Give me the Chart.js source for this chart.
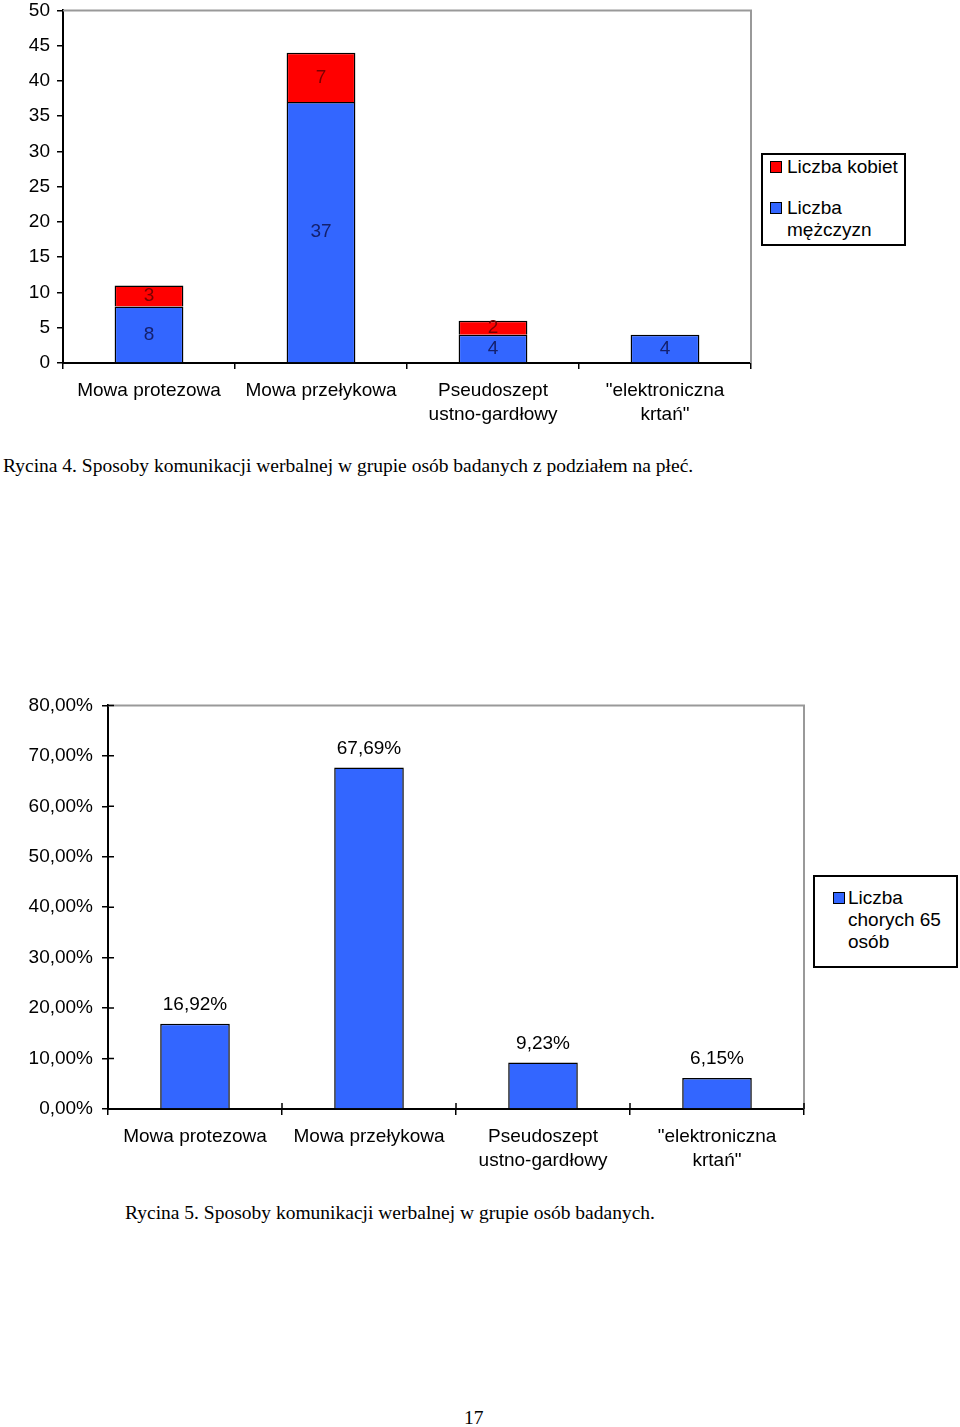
<!DOCTYPE html>
<html>
<head>
<meta charset="utf-8">
<script src="https://cdn.jsdelivr.net/npm/chart.js@4"></script>
<style>
  body { margin: 0; width: 960px; height: 1427px; position: relative; background: #fff; font-family: "Liberation Sans", Arial, sans-serif; overflow: hidden; }
  .box { position: absolute; }
  .legend { position: absolute; border: 2px solid #000; background: #fff; font-size: 19px; line-height: 22px; color: #000; box-sizing: border-box; }
  .item { position: absolute; }
  .sw { position: absolute; width: 10px; height: 10px; border: 1px solid #000; }
  .caption { position: absolute; font-family: "Liberation Serif", "Times New Roman", serif; font-size: 19.5px; color: #000; white-space: nowrap; }
</style>
</head>
<body>

<div class="box" style="left:0;top:-8px;width:960px;height:448px"><canvas id="chart1"></canvas></div>
<div class="legend" style="left:761px;top:153px;width:145px;height:93px">
  <div class="sw" style="left:7px;top:6px;background:#ff0000"></div>
  <div class="item" style="left:24px;top:1px">Liczba kobiet</div>
  <div class="sw" style="left:7px;top:47px;background:#3366ff"></div>
  <div class="item" style="left:24px;top:42px">Liczba<br>mężczyzn</div>
</div>
<div class="caption" style="left:3px;top:455px">Rycina 4. Sposoby komunikacji werbalnej w grupie osób badanych z podziałem na płeć.</div>

<div class="box" style="left:0;top:685px;width:960px;height:505px"><canvas id="chart2"></canvas></div>
<div class="legend" style="left:813px;top:875px;width:145px;height:93px">
  <div class="sw" style="left:18px;top:15px;background:#3366ff"></div>
  <div class="item" style="left:33px;top:10px">Liczba<br>chorych 65<br>osób</div>
</div>
<div class="caption" style="left:125px;top:1202px">Rycina 5. Sposoby komunikacji werbalnej w grupie osób badanych.</div>

<div class="caption" style="left:464px;top:1407px">17</div>

<script>
let categories = ["Mowa protezowa", "Mowa przełykowa", ["Pseudoszept", "ustno-gardłowy"], ["\"elektroniczna", "krtań\""]];
let kobiety = [3, 7, 2, 0];
let mezczyzni = [8, 37, 4, 4];
let procenty = [16.92, 67.69, 9.23, 6.15];
let ticks1 = [0, 5, 10, 15, 20, 25, 30, 35, 40, 45, 50];
let ticks2 = [0, 10, 20, 30, 40, 50, 60, 70, 80];

Chart.defaults.font.family = '"Liberation Sans", Arial, sans-serif';
Chart.defaults.font.size = 19;
Chart.defaults.color = "#000";
Chart.defaults.animation = false;

// gray top/right border of the plot area
let frame = {
  id: "frame",
  beforeDatasetsDraw(chart) {
    let a = chart.chartArea;
    let c = chart.ctx;
    c.save();
    c.strokeStyle = "#999";
    c.lineWidth = 2;
    c.beginPath();
    c.moveTo(a.left, a.top);
    c.lineTo(a.right, a.top);
    c.lineTo(a.right, a.bottom);
    c.stroke();
    c.restore();
  }
};

// value labels drawn from the bar elements
let labels = {
  id: "labels",
  afterDatasetsDraw(chart, args, opts) {
    let c = chart.ctx;
    c.save();
    c.font = '19px "Liberation Sans", Arial, sans-serif';
    c.textAlign = "center";
    c.textBaseline = "middle";
    chart.data.datasets.forEach((ds, di) => {
      let meta = chart.getDatasetMeta(di);
      meta.data.forEach((bar, i) => {
        let v = ds.data[i];
        if (!v) return;
        c.fillStyle = ds.labelColor;
        if (opts.inside) {
          c.fillText(String(v), bar.x, (bar.y + bar.base) / 2);
        } else {
          c.fillText(v.toFixed(2).replace(".", ",") + "%", bar.x, bar.y - 19);
        }
      });
    });
    c.restore();
  }
};

// inner half of crossing tick marks
let innerTicks = {
  id: "innerTicks",
  afterDraw(chart) {
    let c = chart.ctx;
    let a = chart.chartArea;
    let y = chart.scales.y;
    c.save();
    c.strokeStyle = "#000";
    c.lineWidth = 1.5;
    c.beginPath();
    y.ticks.forEach((t, i) => {
      let py = y.getPixelForTick(i);
      c.moveTo(a.left, py);
      c.lineTo(a.left + 6, py);
    });
    let step = (a.right - a.left) / categories.length;
    for (let i = 1; i <= categories.length; i++) {
      let px = a.left + i * step;
      c.moveTo(px, a.bottom);
      c.lineTo(px, a.bottom - 6);
    }
    c.stroke();
    c.restore();
  }
};

let ctx1 = document.getElementById("chart1");
new Chart(ctx1, {
  type: "bar",
  data: {
    labels: categories,
    datasets: [
      {
        label: "Liczba mężczyzn",
        data: mezczyzni,
        backgroundColor: "#3366ff",
        borderColor: "#000",
        borderWidth: 1.5,
        borderSkipped: "bottom",
        labelColor: "#14206e"
      },
      {
        label: "Liczba kobiet",
        data: kobiety,
        backgroundColor: "#ff0000",
        borderColor: "#000",
        borderWidth: 1.5,
        borderSkipped: "bottom",
        labelColor: "#7a0000"
      }
    ]
  },
  options: {
    responsive: true,
    maintainAspectRatio: false,
    layout: { padding: { top: 2, right: 209, left: 0, bottom: 0 } },
    categoryPercentage: 1,
    barPercentage: 0.4,
    plugins: { legend: { display: false }, tooltip: { enabled: false }, labels: { inside: true } },
    scales: {
      x: {
        stacked: true,
        grid: { drawOnChartArea: false, drawTicks: true, tickLength: 6, color: "#000", lineWidth: 1.5 },
        border: { display: true, color: "#000", width: 2 },
        ticks: { padding: 10, maxRotation: 0, autoSkip: false, font: { size: 19, lineHeight: 1.25 } },
        afterFit(s) { s.height = 77; }
      },
      y: {
        stacked: true,
        min: 0,
        max: 50,
        afterBuildTicks(s) { s.ticks = ticks1.map(v => ({ value: v })); },
        grid: { drawOnChartArea: false, drawTicks: true, tickLength: 6, color: "#000", lineWidth: 1.5 },
        border: { display: true, color: "#000", width: 2 },
        ticks: { padding: 7, font: { size: 19 } },
        afterFit(s) { s.width = 63; }
      }
    }
  },
  plugins: [frame, labels]
});

let ctx2 = document.getElementById("chart2");
new Chart(ctx2, {
  type: "bar",
  data: {
    labels: categories,
    datasets: [
      {
        label: "Liczba chorych 65 osób",
        data: procenty,
        backgroundColor: "#3366ff",
        borderColor: "#000",
        borderWidth: 1.5,
        borderSkipped: "bottom",
        labelColor: "#000"
      }
    ]
  },
  options: {
    responsive: true,
    maintainAspectRatio: false,
    layout: { padding: { top: 2, right: 156, left: 0, bottom: 0 } },
    categoryPercentage: 1,
    barPercentage: 0.4,
    plugins: { legend: { display: false }, tooltip: { enabled: false }, labels: { inside: false } },
    scales: {
      x: {
        grid: { drawOnChartArea: false, drawTicks: true, tickLength: 6, color: "#000", lineWidth: 1.5 },
        border: { display: true, color: "#000", width: 2 },
        ticks: { padding: 10, maxRotation: 0, autoSkip: false, font: { size: 19, lineHeight: 1.25 } },
        afterFit(s) { s.height = 81; }
      },
      y: {
        min: 0,
        max: 80,
        afterBuildTicks(s) { s.ticks = ticks2.map(v => ({ value: v })); },
        grid: { drawOnChartArea: false, drawTicks: true, tickLength: 6, color: "#000", lineWidth: 1.5 },
        border: { display: true, color: "#000", width: 2 },
        ticks: { padding: 9, font: { size: 19 }, callback: v => v.toFixed(2).replace(".", ",") + "%" },
        afterFit(s) { s.width = 108; }
      }
    }
  },
  plugins: [frame, labels, innerTicks]
});
</script>
</body>
</html>
